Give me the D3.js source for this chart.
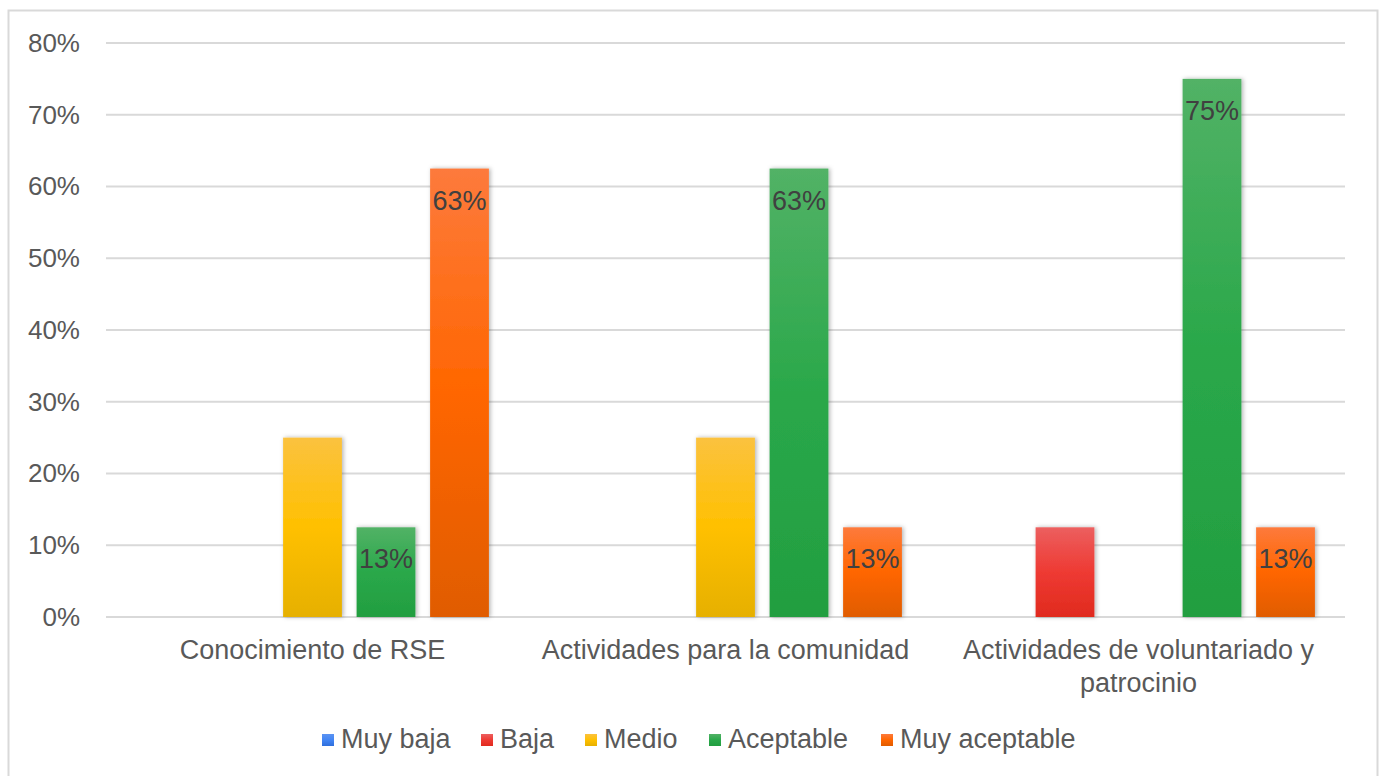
<!DOCTYPE html>
<html><head><meta charset="utf-8">
<script src="https://cdn.jsdelivr.net/npm/d3@7"></script>
<style>html,body{margin:0;padding:0;background:#fff;}svg{display:block;font-family:"Liberation Sans",Arial,sans-serif;}</style>
</head><body>
<svg id="c" width="1384" height="776"></svg>
<script>
const categories = ["Conocimiento de RSE", "Actividades para la comunidad", "Actividades de voluntariado y patrocinio"];
const seriesNames = ["Muy baja", "Baja", "Medio", "Aceptable", "Muy aceptable"];
const muyBaja = [0, 0, 0];
const baja = [0, 0, 0.125];
const medio = [0.25, 0.25, 0];
const aceptable = [0.125, 0.625, 0.75];
const muyAceptable = [0.625, 0.125, 0.125];
const labeledSeries = ["Aceptable", "Muy aceptable"];
const yTicks = [0, 0.1, 0.2, 0.3, 0.4, 0.5, 0.6, 0.7, 0.8];
const xLabelLines = [["Conocimiento de RSE"], ["Actividades para la comunidad"], ["Actividades de voluntariado y", "patrocinio"]];

(function () {
const seriesValues = [muyBaja, baja, medio, aceptable, muyAceptable];
const colors = {
  "Muy baja": ["#5b93f2", "#4285f4", "#2f6fdc"],
  "Baja": ["#ec5f5f", "#ee3a33", "#e02a1e"],
  "Medio": ["#fbc23f", "#ffc000", "#e6b000"],
  "Aceptable": ["#52b266", "#2aa84a", "#229e40"],
  "Muy aceptable": ["#fd7a3c", "#ff6600", "#e05c00"]
};

const svg = d3.select("#c");
const defs = svg.append("defs");
seriesNames.forEach((s, i) => {
  const g = defs.append("linearGradient").attr("id", "g" + i).attr("x1", 0).attr("y1", 0).attr("x2", 0).attr("y2", 1);
  g.append("stop").attr("offset", "0%").attr("stop-color", colors[s][0]);
  g.append("stop").attr("offset", "50%").attr("stop-color", colors[s][1]);
  g.append("stop").attr("offset", "100%").attr("stop-color", colors[s][2]);
});
const f = defs.append("filter").attr("id", "sh").attr("x", "-30%").attr("y", "-10%").attr("width", "160%").attr("height", "120%");
f.append("feDropShadow").attr("dx", 1.5).attr("dy", 0).attr("stdDeviation", 2).attr("flood-color", "#000").attr("flood-opacity", 0.3);

// border
svg.append("rect").attr("x", 8.5).attr("y", 10.5).attr("width", 1369).attr("height", 800)
  .attr("fill", "#fff").attr("stroke", "#d9d9d9").attr("stroke-width", 2);

const pl = 106, pr = 1345, pt = 43, pb = 617;
const y = d3.scaleLinear().domain([0, 0.8]).range([pb, pt]);
const x0 = d3.scaleBand().domain(categories).range([pl, pr]).paddingInner(0).paddingOuter(0);
const x1 = d3.scaleBand().domain(seriesNames).range([22.75, x0.bandwidth() - 22.75]).paddingInner(0.2).paddingOuter(0.1);

// gridlines
const grid = svg.append("g");
grid.selectAll("line").data(yTicks).join("line")
  .attr("x1", pl).attr("x2", pr).attr("y1", d => y(d)).attr("y2", d => y(d))
  .attr("stroke", "#d9d9d9").attr("stroke-width", 2);

// y axis
const yAxis = d3.axisLeft(y).tickValues(yTicks).tickFormat(d3.format(".0%")).tickSize(0).tickPadding(26);
const ya = svg.append("g").attr("transform", `translate(${pl},0)`).call(yAxis);
ya.select(".domain").remove();
ya.selectAll("text").attr("font-size", 26).attr("fill", "#595959").attr("font-family", "Liberation Sans, Arial, sans-serif");

// bars
const data = [];
categories.forEach((c, ci) => seriesNames.forEach((s, si) => data.push({c, s, si, v: seriesValues[si][ci]})));
const bars = svg.append("g");
bars.selectAll("rect").data(data.filter(d => d.v > 0)).join("rect")
  .attr("x", d => x0(d.c) + x1(d.s)).attr("width", x1.bandwidth())
  .attr("y", d => y(d.v)).attr("height", d => y(0) - y(d.v))
  .attr("fill", d => `url(#g${d.si})`).attr("filter", "url(#sh)");

// data labels
svg.append("g").selectAll("text").data(data.filter(d => d.v > 0 && labeledSeries.includes(d.s))).join("text")
  .attr("x", d => x0(d.c) + x1(d.s) + x1.bandwidth() / 2)
  .attr("y", d => y(d.v) + 41)
  .attr("text-anchor", "middle").attr("font-size", 27).attr("fill", "#404040")
  .text(d => d3.format(".0%")(d.v));

// x labels
const xl = svg.append("g");
categories.forEach((c, i) => {
  const t = xl.append("text").attr("text-anchor", "middle").attr("font-size", 27).attr("fill", "#595959");
  xLabelLines[i].forEach((ln, j) => {
    t.append("tspan").attr("x", x0(c) + x0.bandwidth() / 2).attr("y", 659 + j * 33).text(ln);
  });
});

// legend
const legendX = [322, 481, 585, 709, 881];
const lg = svg.append("g");
seriesNames.forEach((s, i) => {
  lg.append("rect").attr("x", legendX[i]).attr("y", 734).attr("width", 12).attr("height", 12).attr("fill", `url(#g${i})`);
  lg.append("text").attr("x", legendX[i] + 19).attr("y", 748).attr("font-size", 27).attr("fill", "#595959").text(s);
});
})();
</script>
</body></html>
